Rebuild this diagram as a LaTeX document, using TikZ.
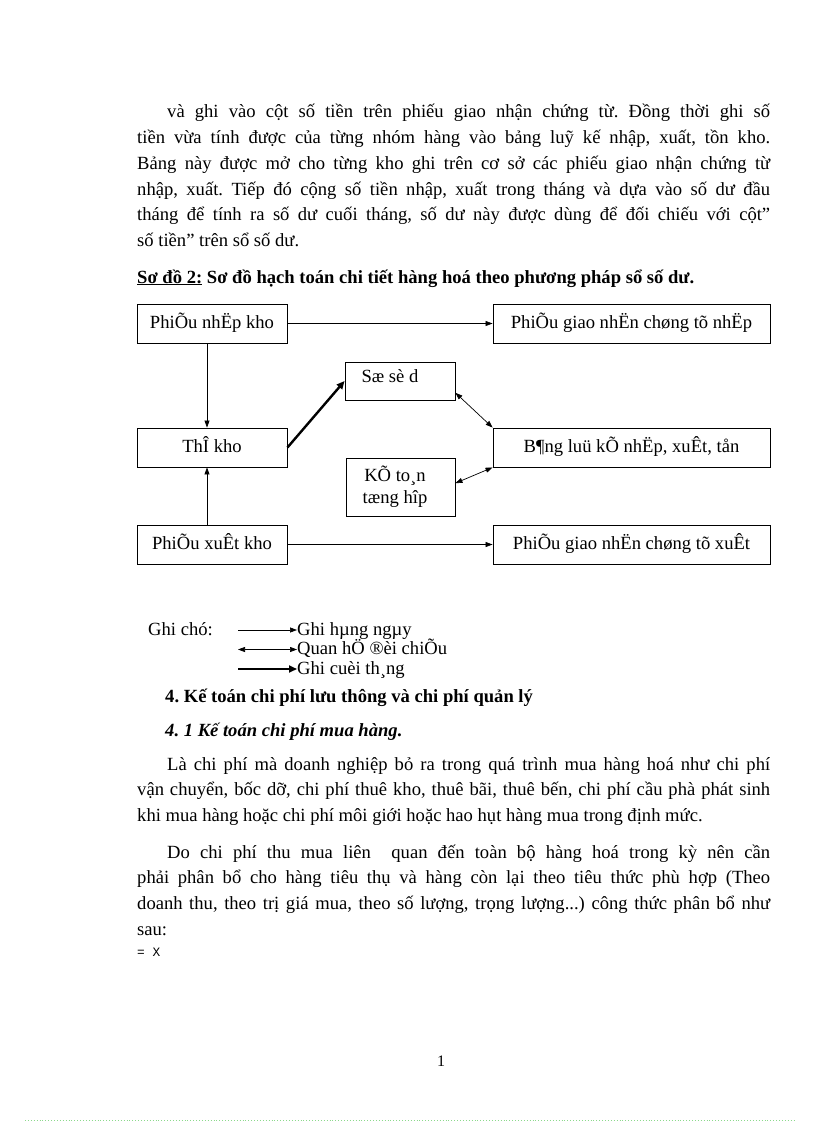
\documentclass[tikz,border=0pt]{standalone}
\usepackage{fontspec}
\setmainfont{Liberation Serif}
\setmonofont{Liberation Mono}
\usetikzlibrary{arrows.meta}

\newcommand\bodysize{\fontsize{18.6}{25.7}\selectfont\frenchspacing}

\begin{document}
\begin{tikzpicture}[x=1pt,y=-1pt,
  box/.style={draw,line width=0.9pt,minimum height=39pt,inner sep=2pt,text height=13pt,text depth=4pt,font=\bodysize},
  daily/.style={line width=0.7pt,-{Triangle[length=7pt,width=5pt]}},
  cross/.style={line width=0.7pt,{Triangle[length=7pt,width=5pt]}-{Triangle[length=7pt,width=5pt]}},
  monthly/.style={line width=2.4pt,-{Triangle[length=8pt,width=7pt]}},
  para/.style={anchor=base west,inner sep=0pt,text width=633pt,align=justify,font=\bodysize},
  textline/.style={anchor=base west,inner sep=0pt,font=\bodysize}]

\fill[white] (0,0) rectangle (816,1123);
\useasboundingbox (0,0) rectangle (816,1123);

% text above the diagram
\node[para] (p1) at (137,118) {\hspace*{30pt}và ghi vào cột số tiền trên phiếu giao nhận chứng từ. Đồng thời ghi số\linebreak
tiền vừa tính được của từng nhóm hàng vào bảng luỹ kế nhập, xuất, tồn kho.\linebreak
Bảng này được mở cho từng kho ghi trên cơ sở các phiếu giao nhận chứng từ\linebreak
nhập, xuất. Tiếp đó cộng số tiền nhập, xuất trong tháng và dựa vào số dư đầu\linebreak
tháng để tính ra số dư cuối tháng, số dư này được dùng để đối chiếu với cột”\linebreak
số tiền” trên sổ số dư.};

\node[textline] (title) at (137,283) {\bfseries\underline{Sơ đồ 2:} Sơ đồ hạch toán chi tiết hàng hoá theo phương pháp sổ số dư.};

% diagram
\node[box,minimum width=150pt] (pnk) at (212,323.5) {PhiÕu nhËp kho};
\node[box,minimum width=277pt] (gnn) at (631.5,323.5) {PhiÕu giao nhËn chøng tõ nhËp};
\node[box,minimum width=110pt,minimum height=38pt,inner ysep=4pt,text height=16pt,text depth=14pt] (ssd) at (400,381) {Sæ sè d\hspace*{20pt}};
\node[box,minimum width=150pt] (thk) at (212,447.5) {ThÎ kho};
\node[box,minimum width=277pt] (blk) at (631.5,447.5) {B¶ng luü kÕ nhËp, xuÊt, tån};
\node[box,minimum width=109pt,minimum height=58pt,text height=,text depth=,align=center] (ktt) at (400.5,487) {KÕ to¸n\hspace*{11pt}\\[-4pt]tæng hîp\hspace*{11pt}};
\node[box,minimum width=150pt] (pxk) at (212,544.5) {PhiÕu xuÊt kho};
\node[box,minimum width=277pt] (gnx) at (631.5,544.5) {PhiÕu giao nhËn chøng tõ xuÊt};

\draw[daily] (pnk) -- (gnn);
\draw[daily] (pxk) -- (gnx);
\draw[daily] ([xshift=-5pt]pnk.south) -- ([xshift=-5pt]thk.north);
\draw[daily] ([xshift=-5pt]pxk.north) -- ([xshift=-5pt]thk.south);
\draw[monthly] (thk.east) -- (ssd.west);
\draw[cross] (ssd.-12) -- (blk.north west);
\draw[cross] (ktt.4) -- (blk.south west);

% legend
\node[textline] (note) at (148,635) {Ghi chó:};
\node[textline] (l1) at (297,635) {Ghi hµng ngµy};
\node[textline] (l2) at (297,654.5) {Quan hÖ ®èi chiÕu};
\node[textline] (l3) at (297,674) {Ghi cuèi th¸ng};
\coordinate (s1) at (238,630);
\coordinate (s2) at (238,649.5);
\coordinate (s3) at (238,669);
\draw[daily] (s1) -- (s1 -| l1.west);
\draw[cross] (s2) -- (s2 -| l2.west);
\draw[monthly,line width=1.8pt] (s3) -- (s3 -| l3.west);

% text below the diagram
\node[textline] (h4) at (165,702) {\bfseries 4. Kế toán chi phí lưu thông và chi phí quản lý};
\node[textline] (h41) at (165,736) {\bfseries\itshape 4. 1 Kế toán chi phí mua hàng.};

\node[para] (p2) at (137,770) {\hspace*{30pt}Là chi phí mà doanh nghiệp bỏ ra trong quá trình mua hàng hoá như chi phí\linebreak
vận chuyển, bốc dỡ, chi phí thuê kho, thuê bãi, thuê bến, chi phí cầu phà phát sinh\linebreak
khi mua hàng hoặc chi phí môi giới hoặc hao hụt hàng mua trong định mức.};

\node[para] (p3) at (137,858) {\hspace*{30pt}Do chi phí thu mua liên\ \ quan đến toàn bộ hàng hoá trong kỳ nên cần\linebreak
phải phân bổ cho hàng tiêu thụ và hàng còn lại theo tiêu thức phù hợp (Theo\linebreak
doanh thu, theo trị giá mua, theo số lượng, trọng lượng...) công thức phân bổ như\linebreak
sau:};

\node[anchor=base west,inner sep=0pt,font=\fontsize{12.8}{14}\ttfamily] (eqx) at (137,956) {= X};

\node[anchor=base,inner sep=0pt,font=\fontsize{16}{18}\selectfont] (pg) at (441,1066) {1};

\draw[green!50!gray!60,dotted,line width=0.9pt] (25,1120) -- (795,1120);

\end{tikzpicture}
\end{document}
